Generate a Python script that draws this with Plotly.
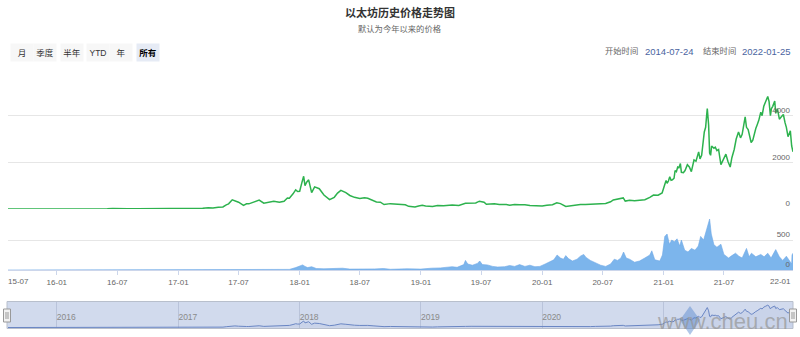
import plotly.graph_objects as go

# ---------------- data ----------------
price_dates = [
    "2015-08-07", "2015-09-01", "2015-10-01", "2015-11-01", "2015-12-01", "2016-01-01",
    "2016-02-01", "2016-03-01", "2016-03-15", "2016-04-01", "2016-05-01", "2016-06-01",
    "2016-06-17", "2016-07-01", "2016-08-01", "2016-09-01", "2016-10-01", "2016-11-01",
    "2016-12-01", "2017-01-01", "2017-02-01", "2017-03-01", "2017-03-15", "2017-04-01",
    "2017-04-15", "2017-05-01", "2017-05-15", "2017-05-25", "2017-06-01", "2017-06-12",
    "2017-06-20", "2017-07-01", "2017-07-16", "2017-07-25", "2017-08-01", "2017-08-15",
    "2017-09-01", "2017-09-15", "2017-10-01", "2017-10-15", "2017-11-01", "2017-11-15",
    "2017-11-25", "2017-12-01", "2017-12-12", "2017-12-20", "2017-12-26", "2018-01-01",
    "2018-01-08", "2018-01-13", "2018-01-17", "2018-01-22", "2018-01-28", "2018-02-06",
    "2018-02-15", "2018-03-01", "2018-03-15", "2018-04-01", "2018-04-15", "2018-04-25",
    "2018-05-05", "2018-05-20", "2018-06-01", "2018-06-15", "2018-07-01", "2018-07-15",
    "2018-07-25", "2018-08-10", "2018-08-20", "2018-09-01", "2018-09-12", "2018-10-01",
    "2018-10-15", "2018-11-01", "2018-11-15", "2018-11-25", "2018-12-14", "2018-12-25",
    "2019-01-05", "2019-01-15", "2019-02-05", "2019-02-20", "2019-03-10", "2019-04-05",
    "2019-04-25", "2019-05-15", "2019-06-01", "2019-06-15", "2019-06-26", "2019-07-10",
    "2019-07-17", "2019-08-01", "2019-08-10", "2019-08-25", "2019-09-15", "2019-09-25",
    "2019-10-10", "2019-10-25", "2019-11-10", "2019-11-25", "2019-12-15", "2020-01-01",
    "2020-01-15", "2020-02-01", "2020-02-14", "2020-02-25", "2020-03-12", "2020-03-20",
    "2020-04-05", "2020-04-25", "2020-05-10", "2020-05-25", "2020-06-10", "2020-06-25",
    "2020-07-10", "2020-07-25", "2020-08-02", "2020-08-15", "2020-09-01", "2020-09-07",
    "2020-09-20", "2020-10-05", "2020-10-20", "2020-11-05", "2020-11-20", "2020-12-01",
    "2020-12-15", "2020-12-27", "2021-01-04", "2021-01-08", "2021-01-11", "2021-01-15",
    "2021-01-19", "2021-01-23", "2021-01-27", "2021-02-01", "2021-02-04", "2021-02-08",
    "2021-02-12", "2021-02-16", "2021-02-20", "2021-02-23", "2021-03-01", "2021-03-06",
    "2021-03-13", "2021-03-19", "2021-03-25", "2021-04-02", "2021-04-08", "2021-04-16",
    "2021-04-20", "2021-04-25", "2021-05-03", "2021-05-07", "2021-05-10", "2021-05-12",
    "2021-05-16", "2021-05-19", "2021-05-22", "2021-05-25", "2021-06-01", "2021-06-05",
    "2021-06-10", "2021-06-15", "2021-06-22", "2021-06-28", "2021-07-01", "2021-07-07",
    "2021-07-13", "2021-07-20", "2021-07-25", "2021-08-01", "2021-08-07", "2021-08-14",
    "2021-08-20", "2021-08-25", "2021-09-03", "2021-09-07", "2021-09-12", "2021-09-21",
    "2021-09-26", "2021-10-01", "2021-10-05", "2021-10-09", "2021-10-14", "2021-10-20",
    "2021-10-24", "2021-10-29", "2021-11-04", "2021-11-10", "2021-11-14", "2021-11-18",
    "2021-11-21", "2021-11-25", "2021-12-01", "2021-12-04", "2021-12-09", "2021-12-15",
    "2021-12-21", "2021-12-27", "2022-01-01", "2022-01-05", "2022-01-10", "2022-01-14",
    "2022-01-17", "2022-01-21", "2022-01-25",
]
price_values = [
    3, 1.3, 0.7, 1.0, 0.9, 0.95,
    2.3, 8, 12, 11.5, 9, 14,
    20, 12, 10, 12, 13, 11,
    8.5, 8, 11, 17, 30, 50,
    48, 78, 90, 180, 220, 395,
    350, 290, 155, 220, 220, 300,
    385, 250, 300, 335, 290, 330,
    470, 460, 650, 820, 750, 760,
    1150, 1400, 1000, 1150, 1250, 700,
    950, 870, 600, 400, 500, 680,
    800, 700, 580, 500, 450, 480,
    460, 370, 300, 290, 190, 230,
    205, 200, 180, 115, 85, 130,
    155, 125, 105, 145, 135, 175,
    155, 245, 265, 260, 335, 290,
    200, 215, 220, 190, 195, 165,
    190, 180, 185, 150, 140, 130,
    165, 185, 270, 230, 112, 130,
    140, 190, 190, 205, 245, 230,
    240, 310, 390, 430, 475, 340,
    370, 350, 370, 400, 500, 600,
    590, 690, 1050, 1220, 1100, 1200,
    1380, 1230, 1250, 1320, 1650, 1600,
    1800, 1780, 1950, 1570, 1560, 1650,
    1900, 1800, 1600, 2100, 2050, 2450,
    2150, 2300, 3300, 3500, 4000, 4300,
    3600, 2400, 2300, 2700, 2600, 2650,
    2500, 2550, 1900, 2100, 2150, 2350,
    2050, 1800, 2200, 2550, 3000, 3300,
    3050, 3200, 3950, 3500, 3400, 2850,
    2950, 3300, 3450, 3600, 3800, 4150,
    4000, 4400, 4600, 4820, 4600, 4000,
    4300, 4400, 4630, 4100, 4300, 3850,
    3950, 4050, 3700, 3500, 3100, 3300,
    3350, 2700, 2450,
]

volume_dates = [
    "2015-08-07", "2017-11-01", "2017-12-01", "2017-12-20", "2018-01-05", "2018-01-10",
    "2018-01-17", "2018-01-25", "2018-02-06", "2018-02-20", "2018-03-15", "2018-04-20",
    "2018-05-10", "2018-06-01", "2018-07-01", "2018-08-15", "2018-09-10", "2018-10-01",
    "2018-11-20", "2018-12-10", "2019-01-01", "2019-02-01", "2019-03-01", "2019-04-05",
    "2019-04-20", "2019-05-10", "2019-05-15", "2019-05-22", "2019-06-05", "2019-06-20",
    "2019-06-27", "2019-07-05", "2019-07-20", "2019-08-05", "2019-08-20", "2019-09-10",
    "2019-09-25", "2019-10-10", "2019-10-25", "2019-11-10", "2019-11-25", "2019-12-10",
    "2019-12-25", "2020-01-10", "2020-01-20", "2020-02-05", "2020-02-15", "2020-02-25",
    "2020-03-05", "2020-03-12", "2020-03-20", "2020-04-01", "2020-04-15", "2020-04-25",
    "2020-05-05", "2020-05-12", "2020-05-25", "2020-06-10", "2020-06-25", "2020-07-10",
    "2020-07-25", "2020-08-05", "2020-08-15", "2020-08-25", "2020-09-02", "2020-09-10",
    "2020-09-20", "2020-10-05", "2020-10-20", "2020-11-05", "2020-11-20", "2020-11-26",
    "2020-12-05", "2020-12-20", "2020-12-28", "2021-01-04", "2021-01-11", "2021-01-18",
    "2021-01-25", "2021-02-02", "2021-02-10", "2021-02-18", "2021-02-23", "2021-03-05",
    "2021-03-15", "2021-03-25", "2021-04-05", "2021-04-15", "2021-04-22", "2021-05-01",
    "2021-05-08", "2021-05-12", "2021-05-19", "2021-05-24", "2021-06-01", "2021-06-10",
    "2021-06-22", "2021-07-01", "2021-07-15", "2021-07-25", "2021-08-05", "2021-08-15",
    "2021-08-25", "2021-09-07", "2021-09-15", "2021-09-22", "2021-10-05", "2021-10-20",
    "2021-10-30", "2021-11-10", "2021-11-20", "2021-12-04", "2021-12-15", "2021-12-25",
    "2022-01-05", "2022-01-15", "2022-01-21", "2022-01-22", "2022-01-25",
]
volume_values = [
    0, 2, 10, 40, 70, 85,
    60, 40, 55, 25, 20, 20,
    30, 15, 12, 18, 25, 12,
    20, 15, 15, 30, 35, 55,
    45, 90, 160, 100, 80, 110,
    150, 90, 85, 60, 50, 55,
    75, 60, 90, 60, 80, 55,
    60, 100, 130, 170, 250, 200,
    180, 240, 190, 150, 180, 230,
    260, 210, 160, 120, 80, 60,
    100, 180, 160, 200, 300, 200,
    180, 130, 150, 200, 250, 320,
    170, 150, 250, 560, 600, 430,
    500, 470, 520, 400, 500, 330,
    300, 360, 330, 400, 560, 500,
    620, 700, 850, 600, 420, 380,
    430, 260, 200, 240, 280, 230,
    200, 360, 220, 280, 220, 260,
    220, 280, 200, 340, 220, 160,
    230, 150, 100, 250, 280,
]

range_buttons = ["月", "季度", "半年", "YTD", "年", "所有"]
title_text = "以太坊历史价格走势图"
subtitle_text = "默认为今年以来的价格"
start_label, start_date = "开始时间", "2014-07-24"
end_label, end_date = "结束时间", "2022-01-25"
x_tick_dates = ["2016-01-01", "2016-07-01", "2017-01-01", "2017-07-01", "2018-01-01",
                "2018-07-01", "2019-01-01", "2019-07-01", "2020-01-01", "2020-07-01",
                "2021-01-01", "2021-07-01", "2022-01-01"]
x_tick_labels = ["16-01", "16-07", "17-01", "17-07", "18-01", "18-07", "19-01",
                 "19-07", "20-01", "20-07", "21-01", "21-07", "22-01"]
edge_labels = ["15-07", "22-01"]
nav_tick_dates = ["2016-01-01", "2017-01-01", "2018-01-01", "2019-01-01",
                  "2020-01-01", "2021-01-01"]
nav_tick_labels = ["2016", "2017", "2018", "2019", "2020", ""]

# ---------------- layout helpers ----------------
W, H = 800, 337
def px(x):
    return x / W
def py(y):
    return 1 - y / H

X0, X1 = 8, 793
xrange = [price_dates[0], price_dates[-1]]
FONT = "Liberation Sans, Noto Sans CJK SC, sans-serif"

fig = go.Figure()

fig.add_trace(go.Scatter(
    x=price_dates, y=price_values, xaxis="x", yaxis="y", mode="lines",
    line=dict(color="#2db24e", width=1.5), hoverinfo="skip", showlegend=False))

fig.add_trace(go.Scatter(
    x=volume_dates, y=volume_values, xaxis="x", yaxis="y2", mode="lines",
    line=dict(color="#6fa8e6", width=0.6), fill="tozeroy", fillcolor="#7cb5ec",
    hoverinfo="skip", showlegend=False))

fig.add_trace(go.Scatter(
    x=price_dates, y=price_values, xaxis="x2", yaxis="y3", mode="lines",
    line=dict(color="#6a86c4", width=1), fill="tozeroy",
    fillcolor="rgba(51,92,173,0.05)", hoverinfo="skip", showlegend=False))

axis_font = dict(family=FONT, size=8, color="#666666")

fig.update_layout(
    width=W, height=H, autosize=False,
    margin=dict(l=0, r=0, t=0, b=0),
    paper_bgcolor="white", plot_bgcolor="rgba(0,0,0,0)",
    font=dict(family=FONT),
    xaxis=dict(
        domain=[px(X0), px(X1)], range=xrange, type="date", anchor="y2",
        tickvals=x_tick_dates, ticktext=x_tick_labels[:-1] + [""],
        ticks="outside", ticklen=4, tickcolor="#ccd6eb",
        showline=True, linecolor="#ccd6eb", linewidth=1,
        showgrid=False, zeroline=False, tickfont=axis_font, fixedrange=True),
    yaxis=dict(
        domain=[py(209), py(69)], range=[0, 6000], anchor="x", side="right",
        tickvals=[0, 2000, 4000, 6000], ticktext=["0", "2000", "4000", ""],
        ticklabelposition="inside top", gridcolor="#e6e6e6", zeroline=False,
        showline=False, tickfont=axis_font, fixedrange=True),
    yaxis2=dict(
        domain=[py(270), py(210)], range=[0, 1000], anchor="x", side="right",
        tickvals=[0, 500, 1000], ticktext=["0", "500", ""],
        ticklabelposition="inside top", gridcolor="#e6e6e6", zeroline=False,
        showline=False, tickfont=axis_font, fixedrange=True),
    xaxis2=dict(
        domain=[px(X0), px(X1)], range=xrange, type="date", anchor="y3",
        tickvals=nav_tick_dates, ticktext=nav_tick_labels,
        ticklabelposition="inside right", ticks="", showgrid=True,
        gridcolor="#b9c3da", zeroline=False, showline=False,
        tickfont=dict(family=FONT, size=8.5, color="#8a8a8a"), fixedrange=True),
    yaxis3=dict(
        domain=[py(328), py(302)], range=[-100, 5500], anchor="x2",
        visible=False, fixedrange=True),
)

shapes = []
shapes.append(dict(type="rect", xref="paper", yref="paper",
                   x0=px(X0 - 1), x1=px(X1), y0=py(328.5), y1=py(301.5),
                   fillcolor="rgba(102,133,194,0.3)", line=dict(color="#b8bfcc", width=1),
                   layer="below"))
for hx in (X0 - 1, X1):
    shapes.append(dict(type="rect", xref="paper", yref="paper",
                       x0=px(hx - 3.5), x1=px(hx + 3.5), y0=py(322), y1=py(309),
                       fillcolor="#f2f2f2", line=dict(color="#999999", width=1), layer="above"))
    for dx in (-1, 1):
        shapes.append(dict(type="line", xref="paper", yref="paper",
                           x0=px(hx + dx), x1=px(hx + dx), y0=py(319), y1=py(312),
                           line=dict(color="#999999", width=1), layer="above"))
shapes.append(dict(type="path", xref="paper", yref="paper",
                   path=f"M {px(690)},{py(306)} L {px(700)},{py(320)} L {px(690)},{py(335)} L {px(680)},{py(320)} Z",
                   fillcolor="rgba(80,130,205,0.45)", line=dict(width=0), layer="above"))
fig.update_layout(shapes=shapes)

ann = []
def add_text(text, x, y, size, color, xanchor="center", **kw):
    ann.append(dict(text=text, x=px(x), y=py(y), xref="paper", yref="paper",
                    xanchor=xanchor, yanchor="middle", showarrow=False,
                    font=dict(family=FONT, size=size, color=color), **kw))

add_text(f"<b>{title_text}</b>", 400, 12, 11, "#333333")
add_text(subtitle_text, 400, 29, 8.3, "#666666")

btn_x = [21.5, 45, 72, 97.5, 120.5, 148]
for i, (lab, bx) in enumerate(zip(range_buttons, btn_x)):
    sel = (i == len(range_buttons) - 1)
    add_text(f"<b>{lab}</b>" if sel else lab, bx, 52, 8.5,
             "#000000" if sel else "#333333",
             width=20, height=15, bgcolor=("#e6ebf5" if sel else "#f7f7f7"))

add_text(start_label, 603, 51, 8.3, "#666666", xanchor="left")
add_text(start_date, 643, 51, 9.5, "#4a64a0", xanchor="left")
add_text(end_label, 701, 51, 8.3, "#666666", xanchor="left")
add_text(end_date, 740, 51, 9.5, "#4a64a0", xanchor="left")

# x labels justified inside the plot edges
add_text(edge_labels[0], 18, 281, 8, "#666666")
add_text(edge_labels[1], 780, 281, 8, "#666666")

add_text("www.cheu.cn", 790, 321, 22, "rgba(150,150,150,0.7)", xanchor="right")
fig.update_layout(annotations=ann)

fig.write_html("out.html")
